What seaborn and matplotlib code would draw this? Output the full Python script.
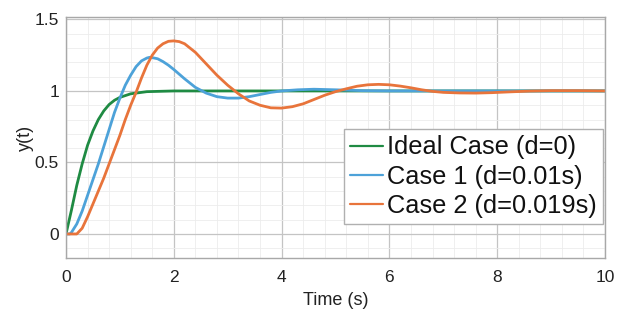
import matplotlib
matplotlib.use("Agg")
import matplotlib.pyplot as plt
import seaborn as sns
import pandas as pd
from matplotlib.ticker import MultipleLocator

# ---- data ----
t_ideal = [0, 0.1, 0.2, 0.3, 0.4, 0.5, 0.6, 0.7, 0.8, 0.9, 1.0, 1.2, 1.5, 2.0, 3.0, 10.0]
y_ideal = [0, 0.165, 0.34, 0.49, 0.62, 0.72, 0.80, 0.86, 0.905, 0.935, 0.955, 0.98, 0.995, 1.0, 1.0, 1.0]

t_case1 = [0, 0.07, 0.1, 0.2, 0.3, 0.4, 0.5, 0.6, 0.7, 0.8, 0.9, 1.0, 1.1, 1.2, 1.3, 1.4, 1.5,
           1.55, 1.6, 1.7, 1.8, 1.9, 2.0, 2.2, 2.4, 2.6, 2.8, 3.0, 3.2, 3.4, 3.6, 3.8, 4.0,
           4.3, 4.6, 5.0, 5.5, 6.0, 10.0]
y_case1 = [0, 0, 0.01, 0.07, 0.16, 0.27, 0.38, 0.49, 0.61, 0.73, 0.85, 0.95, 1.04, 1.11, 1.17, 1.21, 1.23,
           1.235, 1.233, 1.225, 1.205, 1.18, 1.15, 1.085, 1.025, 0.985, 0.96, 0.95, 0.95, 0.96, 0.975, 0.99, 1.0,
           1.008, 1.012, 1.008, 1.002, 1.0, 1.0]

t_case2 = [0, 0.2, 0.3, 0.4, 0.5, 0.6, 0.7, 0.8, 0.9, 1.0, 1.1, 1.2, 1.3, 1.4, 1.5, 1.6, 1.7, 1.8,
           1.9, 2.0, 2.1, 2.2, 2.4, 2.6, 2.8, 3.0, 3.2, 3.4, 3.6, 3.8, 4.0, 4.2, 4.4, 4.6, 4.8,
           5.0, 5.2, 5.4, 5.6, 5.8, 6.0, 6.2, 6.4, 6.6, 6.8, 7.0, 7.3, 7.6, 7.9, 8.2, 8.6, 9.0,
           9.5, 10.0]
y_case2 = [0, 0, 0.04, 0.12, 0.21, 0.30, 0.39, 0.49, 0.59, 0.69, 0.80, 0.90, 0.99, 1.09, 1.18, 1.25, 1.30, 1.33,
           1.347, 1.35, 1.345, 1.33, 1.27, 1.19, 1.11, 1.04, 0.98, 0.93, 0.90, 0.882, 0.88, 0.89, 0.91, 0.94, 0.97,
           0.995, 1.015, 1.033, 1.043, 1.046, 1.043, 1.034, 1.022, 1.008, 0.997, 0.99, 0.986, 0.985, 0.988, 0.993, 0.999, 1.002,
           1.002, 1.0]

labels = ["Ideal Case (d=0)", "Case 1 (d=0.01s)", "Case 2 (d=0.019s)"]
colors = ["#1f8b43", "#4da2d9", "#e8743b"]
x_ticks = [0, 2, 4, 6, 8, 10]
y_ticks = [0, 0.5, 1, 1.5]
y_tick_labels = ["0", "0.5", "1", "1.5"]

df = pd.concat([
    pd.DataFrame({"t": t_ideal, "y": y_ideal, "case": labels[0]}),
    pd.DataFrame({"t": t_case1, "y": y_case1, "case": labels[1]}),
    pd.DataFrame({"t": t_case2, "y": y_case2, "case": labels[2]}),
], ignore_index=True)

sns.set_theme(style="whitegrid")
plt.rcParams["font.family"] = ["Liberation Sans", "DejaVu Sans"]

fig = plt.figure(figsize=(6.34, 3.11), dpi=100)
W, H = 634, 311
L, R, T, B = 66, 605, 17, 258
ax = fig.add_axes([L / W, (H - B) / H, (R - L) / W, (B - T) / H])
ax.set_facecolor("white")

sns.lineplot(data=df, x="t", y="y", hue="case", palette=dict(zip(labels, colors)),
             estimator=None, sort=False, linewidth=2.0, ax=ax)

ax.set_xlim(0, 10)
ax.set_ylim(-0.168, 1.517)
ax.set_xticks(x_ticks)
ax.set_yticks(y_ticks)
ax.set_yticklabels(y_tick_labels)
ax.xaxis.set_minor_locator(MultipleLocator(0.4))
ax.yaxis.set_minor_locator(MultipleLocator(0.1))
ax.grid(which="major", color="#c4c4c4", linewidth=0.9)
ax.grid(which="minor", color="#ececec", linewidth=0.6)
ax.set_axisbelow(True)
for s in ax.spines.values():
    s.set_color("#a8a8a8")
    s.set_linewidth(1.0)
ax.tick_params(axis="both", which="both", length=0, labelsize=12.5, colors="#222222")
ax.tick_params(axis="x", pad=9)
ax.tick_params(axis="y", pad=5)

ax.set_xlabel("Time (s)", fontsize=13, color="#222222", labelpad=5)
ax.set_ylabel("y(t)", fontsize=13, color="#222222", labelpad=0.5)

handles, lbls = ax.get_legend_handles_labels()
leg = ax.legend(handles, lbls, loc="lower right",
                bbox_to_anchor=((603 - L) / (R - L), (B - 224) / (B - T)),
                borderaxespad=0, fontsize=18.3, frameon=True, fancybox=False,
                handlelength=1.3, handletextpad=0.15, labelspacing=0.2,
                borderpad=0.25, edgecolor="#b0b0b0", framealpha=1)
leg.get_frame().set_linewidth(1.0)
for text in leg.get_texts():
    text.set_color("#111111")
for line in leg.get_lines():
    line.set_linewidth(1.6)

fig.savefig("out.png", dpi=100)
